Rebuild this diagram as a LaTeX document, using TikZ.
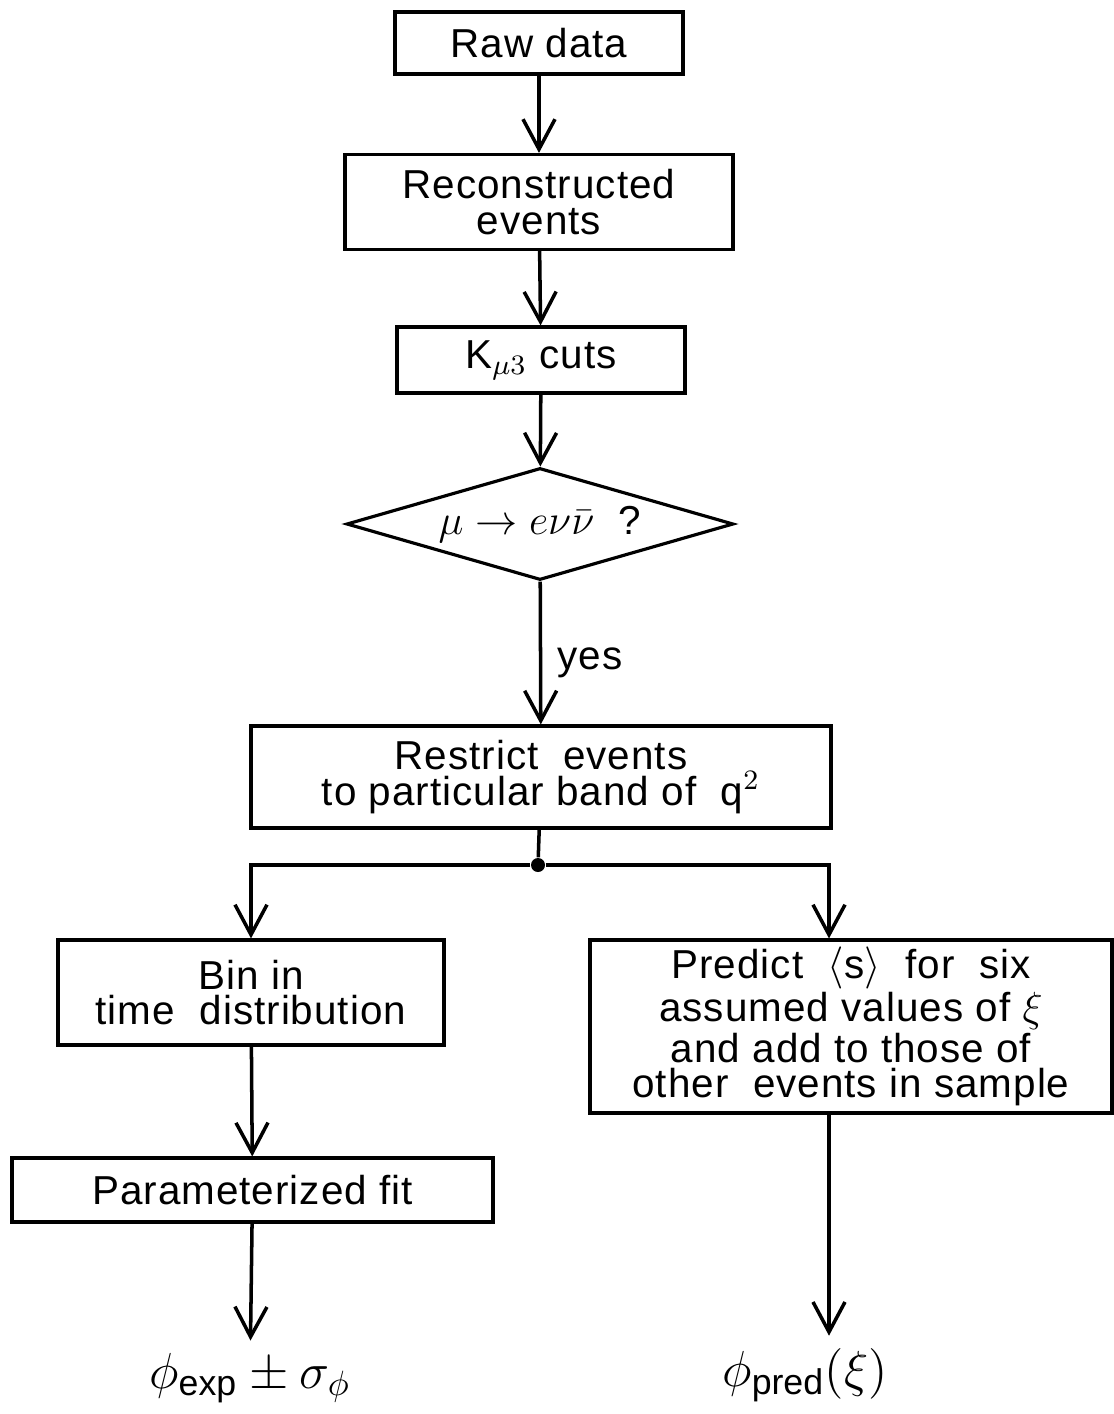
\documentclass[tikz,border=0pt]{standalone}
\usepackage{fontspec}
\setmainfont{Liberation Sans}[LetterSpace=2.5]
\usetikzlibrary{shapes.geometric,arrows.meta}
\tikzset{
  caja/.style={draw, line width=0.9pt, inner sep=0pt, align=center,
    font=\fontsize{11.5}{10}\selectfont},
  decision/.style={draw, diamond, line width=0.9pt, inner sep=0pt, shape aspect=3.45,
    font=\fontsize{11.5}{10}\selectfont},
  flecha/.style={-{Straight Barb[length=3mm,width=3.2mm]}, line width=1pt},
  rotulo/.style={font=\fontsize{14.5}{17}\selectfont},
}
\begin{document}
\begin{tikzpicture}
                \useasboundingbox (0,0) rectangle (11.14,-14.14);
                % Cajas principales
                \node[caja, minimum width=2.88cm, minimum height=0.62cm] (raw) at (5.39,-0.43) {Raw data};
                \node[caja, minimum width=3.88cm, minimum height=0.95cm] (recon) at (5.39,-2.02) {Reconstructed\\ events};
                \node[caja, minimum width=2.88cm, minimum height=0.66cm] (cuts) at (5.41,-3.60) {K$_{\mu 3}$ cuts};
                % Decision
                \node[decision, minimum width=3.87cm, minimum height=1.12cm] (mu) at (5.40,-5.24) {$\mu\rightarrow e\nu\bar\nu$\ \ ?};
                \node[font=\fontsize{11.5}{10}\selectfont] (yes) at (5.90,-6.63) {yes};
                \node[caja, minimum width=5.80cm, minimum height=1.02cm] (restrict) at (5.41,-7.77) {Restrict \ events\\ to particular band of \ q$^{2}$};
                % Punto de bifurcacion
                \node[circle, fill, inner sep=0pt, minimum size=1.4mm] (split) at (5.38,-8.65) {};
                % Ramas
                \node[caja, minimum width=3.86cm, minimum height=1.05cm] (bin) at (2.51,-9.925) {Bin in\\ time \ distribution};
                \node[caja, minimum width=5.22cm, minimum height=1.73cm] (pred) at (8.51,-10.265) {Predict \ $\langle$s$\rangle$ \ for \ six\\ assumed values of $\xi$\\ and add to those of\\ other \ events in sample};
                \node[caja, minimum width=4.81cm, minimum height=0.64cm] (fit) at (2.525,-11.90) {Parameterized fit};
                % Resultados
                \node[rotulo] (phiexp) at (2.50,-13.78) {$\phi_{\mathrm{exp}}\pm\sigma_{\phi}$};
                \node[rotulo] (phipred) at (8.05,-13.75) {$\phi_{\mathrm{pred}}(\xi)$};
                % Flechas
                \draw[flecha] (raw) -- (recon);
                \draw[flecha] (recon) -- (cuts);
                \draw[flecha] (cuts) -- (mu);
                \draw[flecha] (mu) -- (restrict);
                \draw[line width=1pt] (restrict) -- (split);
                \draw[flecha] (split) -| (bin);
                \draw[flecha] (split) -| ([xshift=-2.2mm]pred.north);
                \draw[flecha] (bin) -- (fit);
                \draw[flecha] (fit) -- (phiexp);
                \draw[flecha] ([xshift=-2.2mm]pred.south) -- ([xshift=-2.2mm]pred.south |- phipred.north);
            \end{tikzpicture}
\end{document}
